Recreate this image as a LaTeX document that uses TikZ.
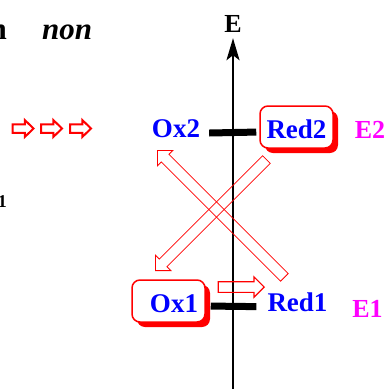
\documentclass[tikz,border=0pt]{standalone}
\usepackage{fontspec}
\setmainfont{Liberation Serif}
\usetikzlibrary{arrows.meta,shapes.arrows,shadows}
\definecolor{levelpink}{RGB}{255,0,255}
\tikzset{
  species/.style={font=\fontsize{27}{30}\selectfont\bfseries, text=blue, inner sep=0pt},
  level/.style={font=\fontsize{26}{30}\selectfont\bfseries, text=levelpink, inner sep=0pt},
  cut/.style={font=\fontsize{31}{34}\selectfont\bfseries, inner sep=0pt},
  statebox/.style={draw=red, line width=1.5pt, rounded corners=8pt, fill=white,
    minimum width=73pt, minimum height=42pt, inner sep=0pt, text height=24pt,
    drop shadow={shadow xshift=5pt, shadow yshift=-5pt, fill=red, opacity=1}},
  bar/.style={line width=7pt},
  hollow/.style={single arrow, draw=red, line width=0.8pt, inner xsep=0pt, inner ysep=5pt,
    single arrow tip angle=90, single arrow head extend=5.5pt},
  pusher/.style={single arrow, draw=red, line width=2pt, inner xsep=0pt, inner ysep=3.25pt,
    single arrow tip angle=88, single arrow head extend=4.25pt, minimum height=21pt}
}
\begin{document}
\begin{tikzpicture}[x=1pt, y=-1pt]
\useasboundingbox (0,0) rectangle (388,389);
% text cut off at the left edge
\node[cut, anchor=base east] (n) at (7,39) {n};
\node[cut, font=\fontsize{31}{34}\selectfont\bfseries\itshape, anchor=base west] (non) at (42,39) {non};
\node[font=\fontsize{18}{20}\selectfont\bfseries, inner sep=0pt, anchor=base east] (one) at (7,207) {1};
% three small arrows
\foreach \x [count=\i] in {35,63.5,92.5}
  \node[pusher, anchor=tip] (push\i) at (\x,128.5) {};
% energy axis
\node[font=\fontsize{26}{30}\selectfont\bfseries, inner sep=0pt, anchor=base] (E) at (233,32) {E};
\coordinate (axisbot) at (233,389);
\draw[line width=2pt, -{Stealth[length=22pt, width=13pt, inset=5pt]}] (axisbot) -- ([yshift=-6pt]E.south);
% couple 2
\node[species, anchor=base] (ox2) at (176,137) {Ox2};
\node[statebox, species] (red2) at (296.5,127) {Red2};
\node[level, anchor=base] (e2) at (370,138) {E2};
\draw[bar, shorten <=9pt, shorten >=3pt] ([yshift=-5pt]ox2.east) -- ([yshift=-5pt]red2.west);
% couple 1
\node[statebox, species, text width=59pt, align=right] (ox1) at (168.5,301) {Ox1};
\node[species, anchor=base] (red1) at (297.5,311) {Red1};
\node[level, anchor=base] (e1) at (367.5,317) {E1};
\draw[bar, shorten <=5pt, shorten >=11pt] ([yshift=-5pt]ox1.east) -- ([yshift=-5pt]red1.west);
% crossed transfer arrows
\node[hollow, minimum height=179.6pt, rotate=135, anchor=tip] (upA) at (157,150) {};
\node[hollow, minimum height=157pt, rotate=225, anchor=tip] (downB) at (155,271) {};
\node[hollow, line width=1.2pt, inner ysep=4.75pt, minimum height=46pt,
  single arrow head extend=4.75pt, anchor=tip] (nudge) at (265,287) {};
\end{tikzpicture}
\end{document}
